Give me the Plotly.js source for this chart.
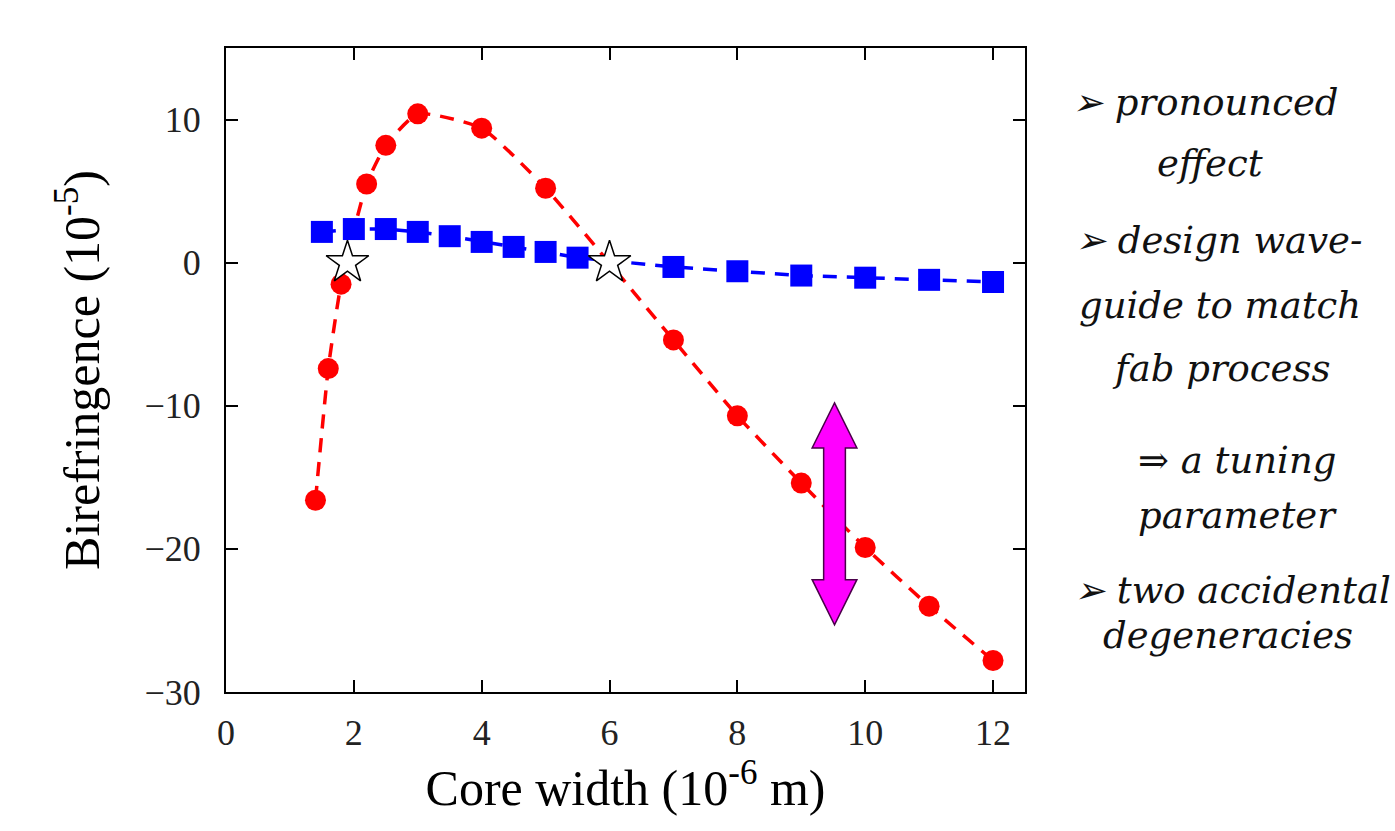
<!DOCTYPE html>
<html>
<head>
<meta charset="utf-8">
<script src="https://cdn.plot.ly/plotly-3.0.1.min.js"></script>
<style>html,body{margin:0;padding:0;background:#fff;}#chart{width:1395px;height:831px;}</style>
</head>
<body>
<div id="chart"></div>
<script>
// Red series (circles)
const redX = [1.4, 1.6, 1.8, 2.2, 2.5, 3, 4, 5, 7, 8, 9, 10, 11, 12];
const redY = [-16.6, -7.4, -1.5, 5.5, 8.2, 10.4, 9.4, 5.2, -5.4, -10.7, -15.4, -19.9, -24.0, -27.8];
// Blue series (squares)
const blueX = [1.5, 2, 2.5, 3, 3.5, 4, 4.5, 5, 5.5, 7, 8, 9, 10, 11, 12];
const blueY = [2.15, 2.35, 2.35, 2.15, 1.85, 1.45, 1.1, 0.75, 0.35, -0.3, -0.6, -0.9, -1.05, -1.2, -1.35];
// Accidental degeneracies (stars)
const starX = [1.9, 6.0];
const starY = [0, 0];
// Double arrow (tuning range)
const arrowX = 9.52;
const arrowTop = -9.8;
const arrowBottom = -25.3;
// Axis ticks
const xTicks = [0, 2, 4, 6, 8, 10, 12];
const yTicks = [-30, -20, -10, 0, 10];
// Side notes
const notes = [
  {text: "\u27A2 pronounced", x: 1205, y: 103},
  {text: "effect", x: 1210, y: 163},
  {text: "\u27A2 design wave-", x: 1218, y: 240},
  {text: "guide to match", x: 1220, y: 305},
  {text: "fab process", x: 1221, y: 368},
  {text: "\u21D2 a tuning", x: 1237, y: 460},
  {text: "parameter", x: 1237, y: 515},
  {text: "\u27A2 two accidental", x: 1232, y: 590},
  {text: "degeneracies", x: 1228, y: 635}
];

const L = 226, R = 370, T = 48, B = 139, W = 1395, H = 831;
const pw = W - L - R, ph = H - T - B;

const traces = [
  {x: redX, y: redY, type: 'scatter', mode: 'lines+markers',
   line: {color: '#ff0000', width: 3.5, dash: '14px,10px', shape: 'spline', smoothing: 0.5},
   marker: {symbol: 'circle', size: 21, color: '#ff0000'}, showlegend: false},
  {x: blueX, y: blueY, type: 'scatter', mode: 'lines+markers',
   line: {color: '#0000ff', width: 3.5, dash: '14px,10px'},
   marker: {symbol: 'square', size: 22, color: '#0000ff'}, showlegend: false},
  {x: starX, y: starY, type: 'scatter', mode: 'markers',
   marker: {symbol: 'star', size: 32, color: '#ffffff', line: {color: '#000000', width: 1.5}}, showlegend: false}
];

const hw = 0.17, hh = 0.35, headLen = 3.15;
const arrowPath = `M ${arrowX},${arrowTop} L ${arrowX+hh},${arrowTop-headLen} L ${arrowX+hw},${arrowTop-headLen} ` +
  `L ${arrowX+hw},${arrowBottom+headLen} L ${arrowX+hh},${arrowBottom+headLen} L ${arrowX},${arrowBottom} ` +
  `L ${arrowX-hh},${arrowBottom+headLen} L ${arrowX-hw},${arrowBottom+headLen} L ${arrowX-hw},${arrowTop-headLen} ` +
  `L ${arrowX-hh},${arrowTop-headLen} Z`;

const annotations = notes.map(n => ({
  text: n.text, xref: 'paper', yref: 'paper',
  x: (n.x - L) / pw, y: 1 - (n.y - T) / ph,
  xanchor: 'center', yanchor: 'middle', showarrow: false,
  font: {family: 'DejaVu Serif', size: 37, color: '#111', style: 'italic'}
}));

const axisFont = {family: 'Liberation Serif', size: 36, color: '#222'};
const layout = {
  width: W, height: H,
  margin: {l: L, r: R, t: T, b: B},
  paper_bgcolor: '#ffffff', plot_bgcolor: '#ffffff',
  xaxis: {range: [0, 12.5], tickvals: xTicks, ticks: 'inside', ticklen: 12, tickwidth: 2, tickcolor: '#000',
          showline: true, linecolor: '#000', linewidth: 2, mirror: 'ticks', showgrid: false, zeroline: false,
          tickfont: axisFont, ticklabelstandoff: 8,
          title: {text: 'Core width (10<sup>-6</sup> m)', font: {family: 'Liberation Serif', size: 50, color: '#000'}, standoff: 7}},
  yaxis: {range: [-30, 15], tickvals: yTicks, ticks: 'inside', ticklen: 12, tickwidth: 2, tickcolor: '#000',
          showline: true, linecolor: '#000', linewidth: 2, mirror: 'ticks', showgrid: false, zeroline: false,
          tickfont: axisFont, ticklabelstandoff: 16,
          title: {text: 'Birefringence (10<sup>-5</sup>)', font: {family: 'Liberation Serif', size: 50, color: '#000'}, standoff: 29}},
  shapes: [{type: 'path', xref: 'x', yref: 'y', path: arrowPath, fillcolor: '#ff00ff', line: {color: '#4a004a', width: 1.5}}],
  annotations: annotations
};

Plotly.newPlot('chart', traces, layout, {displayModeBar: false, staticPlot: true});
</script>
</body>
</html>
